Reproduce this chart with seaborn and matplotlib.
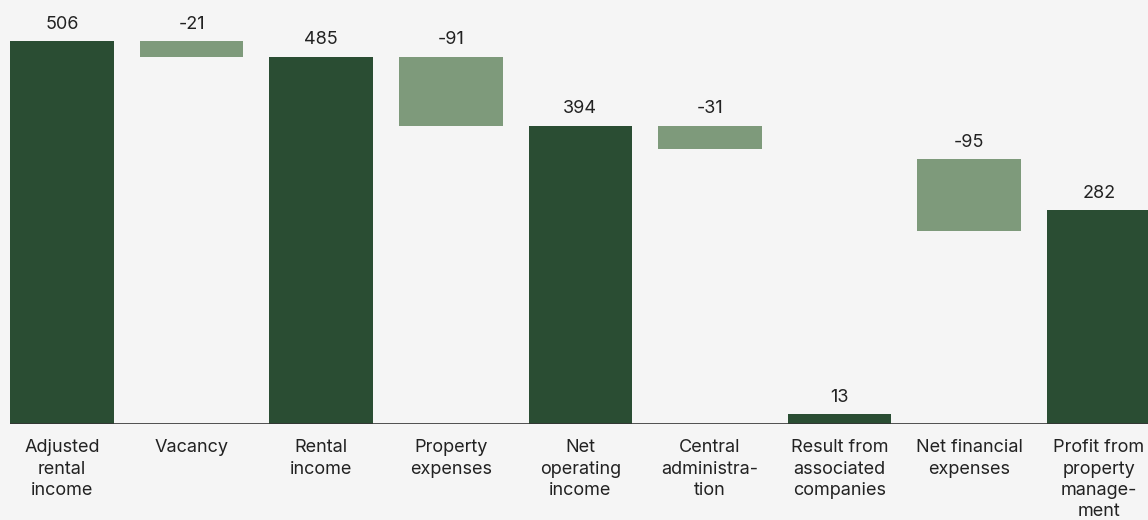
import matplotlib
matplotlib.use("Agg")
import matplotlib.pyplot as plt
import seaborn as sns
import pandas as pd

categories = ["Adjusted\nrental\nincome", "Vacancy", "Rental\nincome", "Property\nexpenses",
              "Net\noperating\nincome", "Central\nadministra-\ntion", "Result from\nassociated\ncompanies",
              "Net financial\nexpenses", "Profit from\nproperty\nmanage-\nment"]
values = [506, -21, 485, -91, 394, -31, 13, -95, 282]
bar_base = [0, 506, 0, 485, 0, 394, 0, 350, 0]
kinds = ["total", "delta", "total", "delta", "total", "delta", "total", "delta", "total"]

DARK = "#2a4d33"
LIGHT = "#7e9a7b"
BG = "#f5f5f5"

sns.set_theme(style="white")
plt.rcParams["font.family"] = ["Inter", "DejaVu Sans"]

df = pd.DataFrame({"category": categories, "value": values})

fig = plt.figure(figsize=(11.48, 5.2), dpi=100, facecolor=BG)
ax = fig.add_axes([10 / 1148, 1 - 424 / 520, 1 - 10 / 1148, 424 / 520])
ax.set_facecolor(BG)

sns.barplot(data=df, x="category", y="value", order=categories, ax=ax,
            bottom=bar_base, width=0.8, color=DARK, saturation=1, errorbar=None)

for patch, kind in zip(ax.patches, kinds):
    patch.set_facecolor(DARK if kind == "total" else LIGHT)
    patch.set_edgecolor("none")

for i, (v, b) in enumerate(zip(values, bar_base)):
    top = max(b, b + v)
    ax.annotate(f"{v}", (i, top), xytext=(0, 6), textcoords="offset points",
                ha="center", va="bottom", fontsize=13, color="#222222")

ax.axhline(0, color="#333333", lw=1.2, zorder=5)
ax.set_xlim(-0.401, 8.38)
ax.set_ylim(0, 560)
ax.set_xlabel("")
ax.set_ylabel("")
ax.set_yticks([])
ax.set_xticks(range(len(categories)))
ax.set_xticklabels(categories, linespacing=1.33, fontsize=13, color="#222222", va="top")
ax.tick_params(axis="x", length=0, pad=11)
for s in ax.spines.values():
    s.set_visible(False)

fig.savefig("out.png", dpi=100, facecolor=BG)
